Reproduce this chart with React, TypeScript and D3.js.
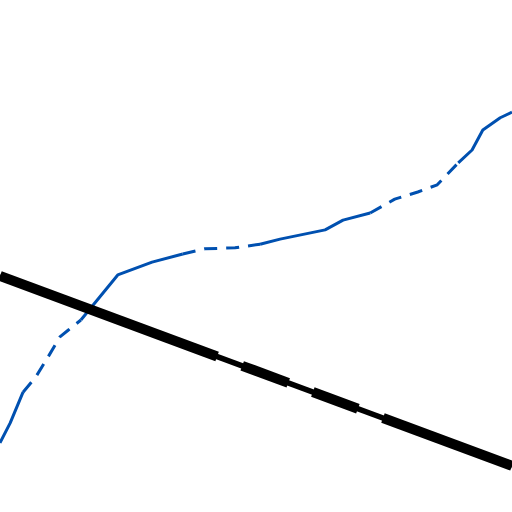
import React from "react";
import * as d3 from "d3";

// blue series: x position and value
const seriesX = [0, 2.0, 4.5, 7.0, 9.4, 11.7, 13.3, 15.8, 23.0, 29.7, 35.7, 40.0, 45.9, 50.8, 54.7, 63.5, 67.0, 72.3, 77.1, 81.6, 85.4, 89.5, 92.2, 94.3, 97.7, 100];
const seriesY = [13.5, 17.4, 23.4, 26.4, 30.3, 34.2, 35.5, 37.5, 46.3, 48.8, 50.4, 51.4, 51.6, 52.3, 53.3, 55.1, 57.0, 58.4, 61.1, 62.5, 63.9, 68.2, 70.7, 74.6, 77.0, 78.1];
// segment i joins point i and i+1; true = estimated (dashed)
const seriesEstimated = [false, false, true, true, true, true, true, false, false, false, true, true, true, false, false, false, false, true, true, true, true, false, false, false, false];

// trend line endpoints and the x ranges where it is strong
const trendX = [0, 100];
const trendY = [46.1, 9.0];
const trendStrong = [[0, 42.4], [47.3, 56.3], [61.1, 69.9], [74.8, 100]];

const width = 512;
const height = 512;

const App = () => {
  const x = d3.scaleLinear().domain([0, 100]).range([0, width]);
  const y = d3.scaleLinear().domain([0, 100]).range([height, 0]);
  const trend = d3.scaleLinear().domain(trendX).range(trendY);

  const line = d3
    .line<[number, number]>()
    .x((d) => x(d[0]))
    .y((d) => y(d[1]));

  // group consecutive segments with same style into runs
  const runs: { dashed: boolean; pts: [number, number][] }[] = [];
  seriesEstimated.forEach((dashed, i) => {
    const a: [number, number] = [seriesX[i], seriesY[i]];
    const b: [number, number] = [seriesX[i + 1], seriesY[i + 1]];
    const last = runs[runs.length - 1];
    if (last && last.dashed === dashed) last.pts.push(b);
    else runs.push({ dashed, pts: [a, b] });
  });

  return (
    <svg
      width={width}
      height={height}
      style={{ position: "fixed", top: 0, left: 0, background: "white" }}
    >
      {runs.map((r, i) => (
        <path
          key={i}
          d={line(r.pts) || ""}
          fill="none"
          stroke="#0050b0"
          strokeWidth={3}
          strokeLinejoin="round"
          strokeDasharray={r.dashed ? "13 9" : undefined}
        />
      ))}
      <path
        d={line(trendX.map((v) => [v, trend(v)] as [number, number])) || ""}
        fill="none"
        stroke="#000"
        strokeWidth={5.5}
      />
      {trendStrong.map(([a, b], i) => (
        <path
          key={i}
          d={line([[a, trend(a)], [b, trend(b)]]) || ""}
          fill="none"
          stroke="#000"
          strokeWidth={10}
        />
      ))}
    </svg>
  );
};

export default App;
